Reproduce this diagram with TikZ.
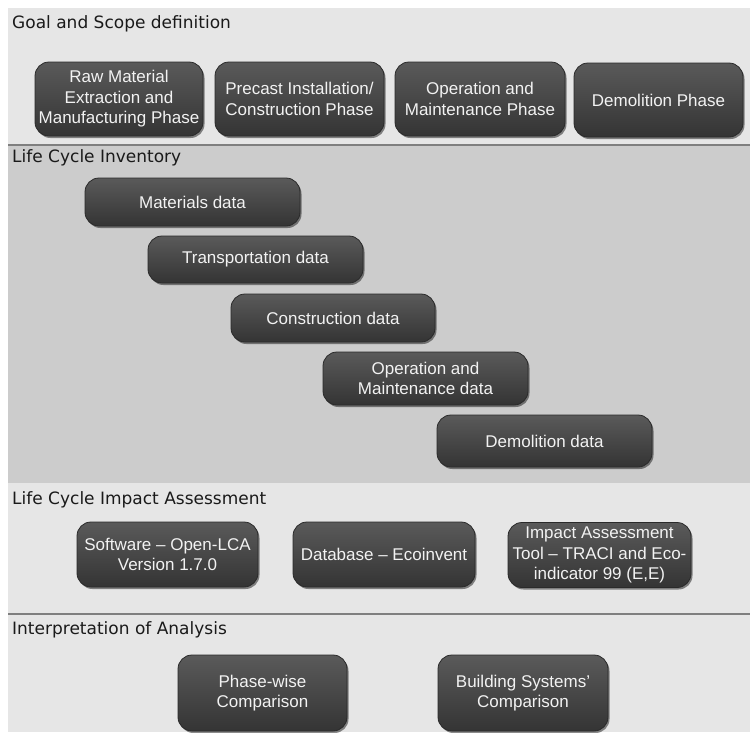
\documentclass[tikz,border=0pt]{standalone}
\usepackage{fontspec}
\setmainfont{Liberation Sans}
\newfontfamily\headfont{DejaVu Sans}
\usetikzlibrary{shadows}
\definecolor{bandlight}{HTML}{E6E6E6}
\definecolor{banddark}{HTML}{CCCCCC}
\definecolor{sepline}{HTML}{7F7F7F}
\definecolor{boxtop}{HTML}{5A5A5A}
\definecolor{boxbot}{HTML}{343434}
\definecolor{boxedge}{HTML}{2A2A2A}
\definecolor{boxtext}{HTML}{F2F2F2}
\definecolor{headtext}{HTML}{1A1A1A}
\begin{document}
\begin{tikzpicture}[x=1pt,y=-1pt,
  pbox/.style={draw=boxedge, line width=0.8pt, rounded corners=14pt,
    top color=boxtop, bottom color=boxbot, text=boxtext, align=center,
    font=\fontsize{17}{20.5}\selectfont, inner sep=2pt,
    drop shadow={shadow xshift=1.5pt, shadow yshift=-2pt, opacity=0.45, fill=black}},
  heading/.style={anchor=base west, inner sep=0pt, text=headtext,
    font=\headfont\fontsize{17}{20}\selectfont},
  sep/.style={draw=sepline, line width=2pt}]
\useasboundingbox (0,0) rectangle (750,732);
\fill[white] (0,0) rectangle (750,732);
% bands
\fill[bandlight] (8,8) rectangle (750,145);
\fill[banddark] (8,145) rectangle (750,483);
\fill[bandlight] (8,483) rectangle (750,614);
\fill[bandlight] (8,614) rectangle (750,732);
\coordinate (s1a) at (8,145);
\coordinate (s1b) at (750,145);
\coordinate (s2a) at (8,614);
\coordinate (s2b) at (750,614);
\draw[sep] (s1a) -- (s1b);
\draw[sep] (s2a) -- (s2b);
% headings
\node[heading] (h1) at (12,28) {Goal and Scope definition};
\node[heading] (h2) at (12,162) {Life Cycle Inventory};
\node[heading] (h3) at (12,504) {Life Cycle Impact Assessment};
\node[heading] (h4) at (12,634) {Interpretation of Analysis};
% goal and scope
\node[pbox, minimum width=168pt, minimum height=74pt] (raw) at (119,99) {Raw Material\\Extraction and\\Manufacturing Phase};
\node[pbox, minimum width=169pt, minimum height=74pt] (pre) at (299.5,99) {Precast Installation/\\Construction Phase};
\node[pbox, minimum width=170pt, minimum height=74pt] (opm) at (480,99) {Operation and\\Maintenance Phase};
\node[pbox, minimum width=169pt, minimum height=74pt] (dem) at (658.5,100) {Demolition Phase};
% inventory
\node[pbox, minimum width=215pt, minimum height=48pt] (mat) at (192.5,202) {Materials data};
\node[pbox, minimum width=215pt, minimum height=47pt] (tra) at (255.5,259.5) {Transportation data};
\node[pbox, minimum width=204pt, minimum height=48pt] (con) at (333,318) {Construction data};
\node[pbox, minimum width=205pt, minimum height=53pt] (omd) at (425.5,378.5) {Operation and\\Maintenance data};
\node[pbox, minimum width=215pt, minimum height=52pt] (ded) at (544.5,441) {Demolition data};
% impact assessment
\node[pbox, minimum width=181pt, minimum height=65pt] (sw) at (167.5,554.5) {Software -- Open-LCA\\Version 1.7.0};
\node[pbox, minimum width=182pt, minimum height=65pt] (db) at (384,554.5) {Database -- Ecoinvent};
\node[pbox, minimum width=183pt, minimum height=65pt] (imp) at (599.5,555) {Impact Assessment\\Tool -- TRACI and Eco-\\indicator 99 (E,E)};
% interpretation
\node[pbox, minimum width=169pt, minimum height=76pt] (pw) at (262.5,693) {Phase-wise\\Comparison};
\node[pbox, minimum width=170pt, minimum height=76pt] (bs) at (523,693) {Building Systems’\\Comparison};
\end{tikzpicture}
\end{document}
